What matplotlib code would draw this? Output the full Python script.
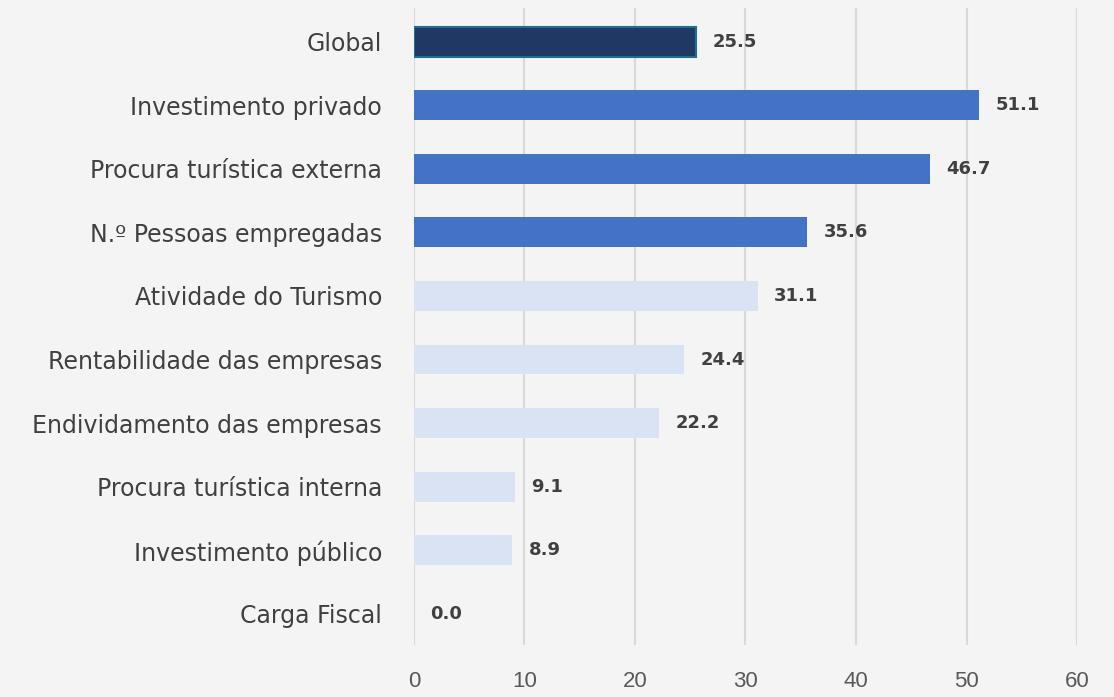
import matplotlib.pyplot as plt

categories = ["Global", "Investimento privado", "Procura turística externa",
              "N.º Pessoas empregadas", "Atividade do Turismo",
              "Rentabilidade das empresas", "Endividamento das empresas",
              "Procura turística interna", "Investimento público", "Carga Fiscal"]
values = [25.5, 51.1, 46.7, 35.6, 31.1, 24.4, 22.2, 9.1, 8.9, 0.0]
colors = ["#203864", "#4472c4", "#4472c4", "#4472c4", "#dae3f3",
          "#dae3f3", "#dae3f3", "#dae3f3", "#dae3f3", "#dae3f3"]
xticks = [0, 10, 20, 30, 40, 50, 60]

bg = "#f4f4f4"
fig = plt.figure(figsize=(11.14, 6.97), dpi=100, facecolor=bg)
ax = fig.add_axes([0.3716, 0.0746, 0.5952, 0.914])
ax.set_facecolor(bg)

pos = list(range(len(categories)))
bars = ax.barh(pos, values, height=0.47, color=colors, zorder=3)
bars[0].set_edgecolor("#1f6f8b")
bars[0].set_linewidth(1.5)

for p, v in zip(pos, values):
    ax.text(v + 1.5, p, f"{v:.1f}", va="center", ha="left", fontsize=13,
            fontweight="bold", color="#404040", family="DejaVu Sans")

ax.set_xlim(0, 60)
ax.set_ylim(9.49, -0.53)
ax.set_xticks(xticks)
ax.set_yticks(pos)
ax.set_yticklabels(categories, family="DejaVu Sans", fontsize=17, color="#404040")
ax.set_xticklabels([str(t) for t in xticks], family="Liberation Sans",
                   fontsize=16, color="#595959")
ax.tick_params(axis="y", length=0, pad=23)
ax.tick_params(axis="x", length=0, pad=19)
ax.grid(axis="x", color="#d9d9d9", linewidth=1.5, zorder=0)
for s in ax.spines.values():
    s.set_visible(False)

fig.savefig("out.png", facecolor=bg)
